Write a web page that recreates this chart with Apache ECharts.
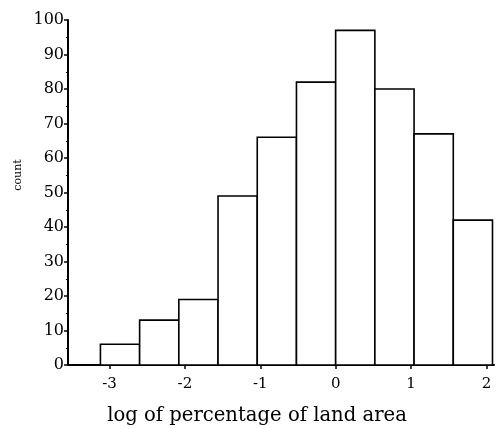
<!DOCTYPE html>
<html><head><meta charset="utf-8">
<script src="https://cdn.jsdelivr.net/npm/echarts@6/dist/echarts.min.js"></script>
<style>html,body{margin:0;padding:0;background:#fff}#c{width:496px;height:429px}</style>
</head><body><div id="c"></div>
<script>
const binStart = [-3.12, -2.60, -2.08, -1.56, -1.04, -0.52, 0.00, 0.52, 1.04, 1.56];
const binEnd   = [-2.60, -2.08, -1.56, -1.04, -0.52, 0.00, 0.52, 1.04, 1.56, 2.08];
const counts   = [6, 13, 19, 49, 66, 82, 97, 80, 67, 42];
const xTicks = [-3, -2, -1, 0, 1, 2];
const xTitle = 'log of percentage of land area';
const yTitle = 'count';

const data = counts.map((c, i) => [binStart[i], binEnd[i], c]);
const font = 'DejaVu Serif';
const chart = echarts.init(document.getElementById('c'));
chart.setOption({
  animation: false,
  grid: {left: 68, top: 20, width: 426, height: 345},
  graphic: [
    {type: 'text', x: 257, y: 416, style: {text: xTitle, fill: '#000', font: '19.6px "DejaVu Serif"', align: 'center', verticalAlign: 'middle'}},
    {type: 'text', x: 18, y: 175, rotation: Math.PI / 2, style: {text: yTitle, fill: '#000', font: '11px "DejaVu Serif"', align: 'center', verticalAlign: 'middle'}}
  ],
  xAxis: {
    type: 'value', min: -3.55, max: 2.1,
    splitLine: {show: false},
    axisLine: {onZero: false, lineStyle: {color: '#000', width: 2}},
    axisTick: {customValues: xTicks, length: 4, lineStyle: {color: '#000', width: 1.5}},
    axisLabel: {customValues: xTicks, color: '#000', fontFamily: font, fontSize: 15, margin: 12}
  },
  yAxis: {
    type: 'value', min: 0, max: 100, interval: 10,
    splitLine: {show: false},
    axisLine: {show: true, onZero: false, lineStyle: {color: '#000', width: 2}},
    axisTick: {show: true, length: 4, lineStyle: {color: '#000', width: 1.5}},
    minorTick: {show: true, splitNumber: 2, length: 2, lineStyle: {color: '#000', width: 1}},
    axisLabel: {color: '#000', fontFamily: font, fontSize: 16, margin: 4}
  },
  series: [{
    type: 'custom',
    data: data,
    renderItem: function (params, api) {
      const p0 = api.coord([api.value(0), api.value(2)]);
      const p1 = api.coord([api.value(1), 0]);
      return {
        type: 'rect',
        shape: {x: p0[0], y: p0[1], width: p1[0] - p0[0], height: p1[1] - p0[1]},
        style: {fill: '#fff', stroke: '#000', lineWidth: 1.6}
      };
    },
    encode: {x: [0, 1], y: 2}
  }]
});
</script></body></html>
